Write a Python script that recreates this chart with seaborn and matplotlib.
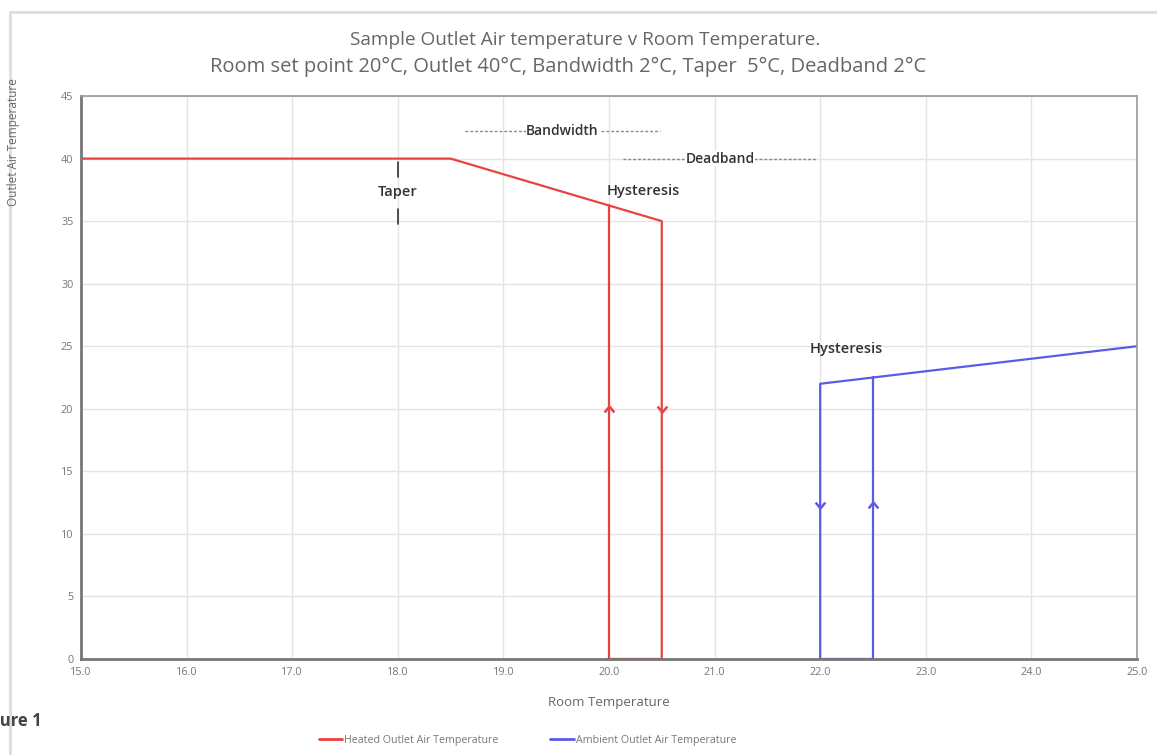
import pandas as pd
import numpy as np
import matplotlib
matplotlib.use('Agg')
import matplotlib.pyplot as plt
import seaborn as sns
from matplotlib.lines import Line2D
from matplotlib.path import Path

# heated outlet curve (traced as one path)
heated_x = [15.0, 18.5, 20.5, 20.5, 20.0, 20.0]
heated_y = [40.0, 40.0, 35.0, 0.0, 0.0, 36.25]

# ambient outlet curve
ambient_x = [25.0, 22.0, 22.0, 22.5, 22.5]
ambient_y = [25.0, 22.0, 0.0, 0.0, 22.5]

# direction arrows on the hysteresis legs
red_up = (20.0, 20.0)
red_down = (20.5, 20.0)
blue_down = (22.0, 12.3)
blue_up = (22.5, 12.3)

# band annotations: (start, end, level, label)
bandwidth = (18.64, 20.48, 42.2, 'Bandwidth')
deadband = (20.13, 21.97, 40.0, 'Deadband')

x_ticks = [15.0, 16.0, 17.0, 18.0, 19.0, 20.0, 21.0, 22.0, 23.0, 24.0, 25.0]
y_ticks = [0, 5, 10, 15, 20, 25, 30, 35, 40, 45]

RED = '#e8433f'
BLUE = '#5b5be6'
GREY = '#555555'
TXT = '#333333'

sns.set_style('white')
plt.rcParams['font.family'] = ['Open Sans', 'DejaVu Sans']

fig = plt.figure(figsize=(11.57, 7.55), dpi=100)
ax = fig.add_axes([0.070, 0.1272, 0.9127, 0.7456])

heated = pd.DataFrame({'x': heated_x, 'y': heated_y})
ambient = pd.DataFrame({'x': ambient_x, 'y': ambient_y})
sns.lineplot(data=heated, x='x', y='y', sort=False, estimator=None, color=RED, lw=1.6, ax=ax)
sns.lineplot(data=ambient, x='x', y='y', sort=False, estimator=None, color=BLUE, lw=1.6, ax=ax)

# open chevron markers
up = Path([(-1, -0.6), (0, 0.6), (1, -0.6)], [Path.MOVETO, Path.LINETO, Path.LINETO])
down = Path([(-1, 0.6), (0, -0.6), (1, 0.6)], [Path.MOVETO, Path.LINETO, Path.LINETO])
for (px, py), mk, c in [(red_up, up, RED), (red_down, down, RED),
                        (blue_down, down, BLUE), (blue_up, up, BLUE)]:
    ax.plot(px, py, marker=mk, ms=7, color=c, mfc='none', mew=1.8, zorder=5)

ax.set_xlim(15, 25)
ax.set_ylim(0, 45)
ax.set_xticks(x_ticks)
ax.set_xticklabels([f'{t:.1f}' for t in x_ticks])
ax.set_yticks(y_ticks)
ax.set_yticks(np.arange(0, 46, 1), minor=True)
ax.grid(True, which='major', color='#e4e4e4', lw=1)
ax.set_axisbelow(True)
ax.tick_params(axis='both', which='major', labelsize=7.8, labelcolor='#777777',
               color=GREY, length=4, direction='inout', width=1)
ax.tick_params(axis='y', which='minor', color=GREY, length=3, direction='inout', width=1)
for s in ['left', 'bottom']:
    ax.spines[s].set_color('#777777')
    ax.spines[s].set_linewidth(2)
for s in ['top', 'right']:
    ax.spines[s].set_color('#999999')
    ax.spines[s].set_linewidth(1.2)

ax.set_xlabel('Room Temperature', fontsize=9.5, color='#666666', labelpad=13)
ax.set_ylabel('')
fig.text(14 / 1157, 1 - 142 / 755, 'Outlet Air Temperature', rotation=90,
         fontsize=8.5, color='#666666', ha='center', va='center')

# annotations
for x0, x1, lev, lab in [bandwidth, deadband]:
    ax.plot([x0, x1], [lev, lev], color='#888888', lw=1, dashes=(2, 1.5))
    ax.text((x0 + x1) / 2, lev, lab, fontsize=10, color=TXT, ha='center', va='center',
            fontweight=600, bbox=dict(facecolor='white', edgecolor='none', pad=0.5))
ax.text(20.32, 37.4, 'Hysteresis', fontsize=10.5, color=TXT, ha='center', va='center', fontweight=600)
ax.text(22.25, 24.8, 'Hysteresis', fontsize=10.5, color=TXT, ha='center', va='center', fontweight=600)
ax.text(18.0, 37.3, 'Taper', fontsize=10.5, color=TXT, ha='center', va='center', fontweight=600)
ax.plot([18.0, 18.0], [38.5, 39.7], color=TXT, lw=1.2)
ax.plot([18.0, 18.0], [34.8, 36.0], color=TXT, lw=1.2)

# titles
fig.text(0.506, 1 - 40 / 755, 'Sample Outlet Air temperature v Room Temperature.',
         fontsize=13.7, color='#666666', ha='center', va='center')
fig.text(0.491, 1 - 67 / 755, 'Room set point 20\u00b0C, Outlet 40\u00b0C, Bandwidth 2\u00b0C, Taper  5\u00b0C, Deadband 2\u00b0C',
         fontsize=14.5, color='#666666', ha='center', va='center')

# legend
handles = [Line2D([0], [0], color=RED, lw=2), Line2D([0], [0], color=BLUE, lw=2)]
fig.legend(handles, ['Heated Outlet Air Temperature', 'Ambient Outlet Air Temperature'],
           loc='center', bbox_to_anchor=(0.456, 1 - 740 / 755), ncol=2, frameon=False,
           fontsize=7.7, handlelength=2.2, handletextpad=0.2, columnspacing=4.8,
           labelcolor='#777777')

# outer frame and cut-off caption
fig.add_artist(Line2D([10 / 1157, 10 / 1157], [0, 1 - 12 / 755], color='#dddddd', lw=2,
                      transform=fig.transFigure))
fig.add_artist(Line2D([10 / 1157, 1], [1 - 12 / 755, 1 - 12 / 755], color='#dddddd', lw=2,
                      transform=fig.transFigure))
fig.text(-0.021, 1 - 721 / 755, 'Figure 1', fontsize=12, fontweight='bold', color='#444444',
         ha='left', va='center')

fig.savefig('out.png', dpi=100)
